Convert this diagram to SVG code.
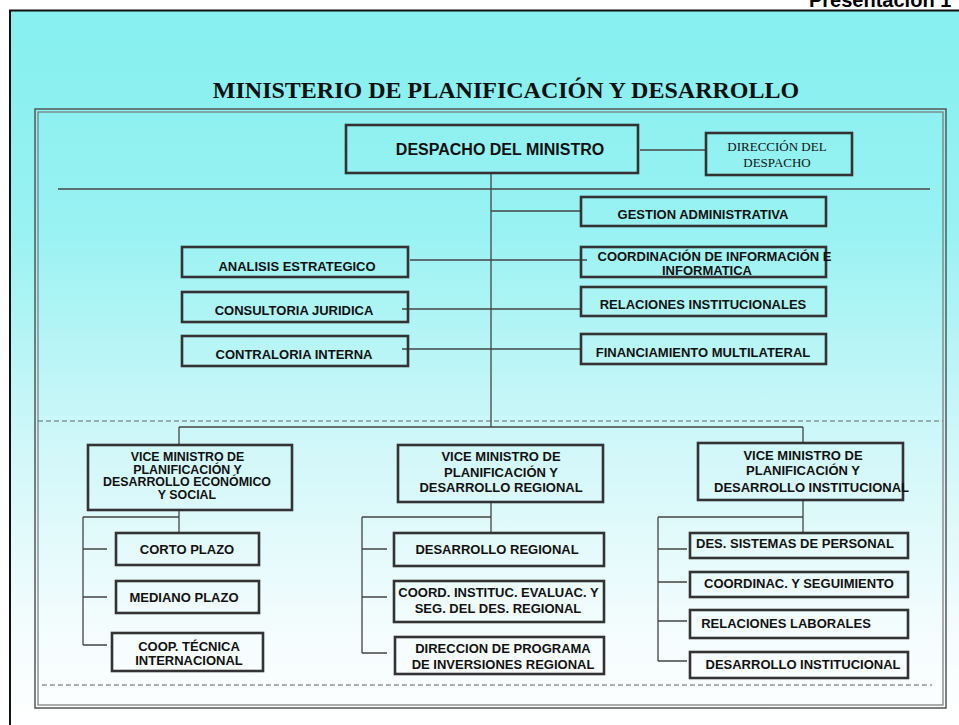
<svg xmlns="http://www.w3.org/2000/svg" width="959" height="725" viewBox="0 0 959 725">
<defs>
<linearGradient id="bg" x1="0" y1="10" x2="0" y2="725" gradientUnits="userSpaceOnUse">
<stop offset="0" stop-color="#86EFEF"/>
<stop offset="0.3" stop-color="#98F2F2"/>
<stop offset="0.6" stop-color="#CFF7F9"/>
<stop offset="0.85" stop-color="#F2FCFD"/>
<stop offset="1" stop-color="#FFFFFF"/>
</linearGradient>
<style>
.box{fill:none;stroke:#333333;stroke-width:2.6}
.t{font-family:"Liberation Sans",Arial,sans-serif;font-weight:bold;font-size:13px;fill:#111111;text-anchor:middle}
.t2{font-family:"Liberation Sans",Arial,sans-serif;font-weight:bold;font-size:12.4px;fill:#111111;text-anchor:middle}
.ser{font-family:"Liberation Serif","Times New Roman",serif;fill:#111111;text-anchor:middle}
.ln{fill:none;stroke:#444444;stroke-width:1.3}
.dash{fill:none;stroke:#666666;stroke-width:1.2;stroke-dasharray:5 3}
</style>
</defs>
<rect x="0" y="0" width="959" height="725" fill="#FFFFFF"/>
<rect x="10" y="10.5" width="960" height="730" fill="url(#bg)" stroke="#111111" stroke-width="2"/>
<text x="809" y="7" style="font-family:'Liberation Sans',Arial,sans-serif;font-weight:bold;font-size:20px" fill="#000000">Presentación 1</text>
<text class="ser" x="506" y="98" style="font-weight:bold;font-size:24px">MINISTERIO DE PLANIFICACIÓN Y DESARROLLO</text>
<g id="frame">
<rect x="35" y="109" width="911" height="599" fill="none" stroke="#555555" stroke-width="1.5"/>
<rect x="38" y="112" width="905" height="593" fill="none" stroke="#777777" stroke-width="1.2"/>
<line x1="58" y1="189" x2="930" y2="189" stroke="#444444" stroke-width="1.3"/>
<line class="dash" x1="38" y1="421" x2="943" y2="421"/>
<line class="dash" x1="42" y1="685" x2="932" y2="685"/>
</g>
<g id="connectors">
<path class="ln" d="M640,150 H706"/>
<path class="ln" d="M491,174 V427"/>
<path class="ln" d="M179,427 H803"/>
<path class="ln" d="M179,427 V445"/>
<path class="ln" d="M803,427 V443"/>
<path class="ln" d="M491,211 H581"/>
<path class="ln" d="M410,260 H587"/>
<path class="ln" d="M402,309 H581"/>
<path class="ln" d="M402,349 H581"/>
<path class="ln" d="M179,510 V533 M83,517 H179 M83,517 V645 M83,549 H107 M83,597 H107 M83,645 H107"/>
<path class="ln" d="M491,502 V533 M362,517 H491 M362,517 V653 M362,549 H387 M362,597 H387 M362,653 H387"/>
<path class="ln" d="M803,500 V533 M658,517 H803 M658,517 V661 M658,549 H687 M658,582 H687 M658,621 H687 M658,661 H687"/>
</g>
<g id="despacho"><rect class="box" x="346" y="125" width="292" height="48"/><text class="t" x="500" y="155" style="font-size:16px">DESPACHO DEL MINISTRO</text></g>
<g id="direccion-despacho"><rect class="box" x="706" y="133" width="146" height="42"/><text class="ser" x="777" y="150.5" style="font-size:13px">DIRECCIÓN DEL</text><text class="ser" x="777" y="167" style="font-size:13px">DESPACHO</text></g>
<g id="gestion"><rect class="box" x="581" y="197" width="245" height="29"/><text class="t" x="703" y="219">GESTION ADMINISTRATIVA</text></g>
<g id="coordinacion"><rect class="box" x="581" y="247" width="245" height="30"/><text class="t" x="714.5" y="261">COORDINACIÓN DE INFORMACIÓN E</text><text class="t" x="707" y="275">INFORMATICA</text></g>
<g id="relaciones-inst"><rect class="box" x="581" y="287" width="245" height="29"/><text class="t" x="703" y="309">RELACIONES INSTITUCIONALES</text></g>
<g id="financiamiento"><rect class="box" x="581" y="334" width="245" height="30"/><text class="t" x="703" y="357">FINANCIAMIENTO MULTILATERAL</text></g>
<g id="analisis"><rect class="box" x="182" y="247" width="226" height="30"/><text class="t" x="297" y="271">ANALISIS ESTRATEGICO</text></g>
<g id="consultoria"><rect class="box" x="182" y="292" width="226" height="30"/><text class="t" x="294" y="315">CONSULTORIA JURIDICA</text></g>
<g id="contraloria"><rect class="box" x="182" y="336" width="226" height="30"/><text class="t" x="294" y="359">CONTRALORIA INTERNA</text></g>
<g id="vm1"><rect class="box" x="88" y="445" width="204" height="65"/><text class="t2" x="187.5" y="461">VICE MINISTRO DE</text><text class="t2" x="187.5" y="473.5">PLANIFICACIÓN Y</text><text class="t2" x="187" y="486">DESARROLLO ECONÓMICO</text><text class="t2" x="187" y="498.5">Y SOCIAL</text></g>
<g id="corto"><rect class="box" x="116" y="533" width="143" height="32"/><text class="t" x="187" y="554">CORTO PLAZO</text></g>
<g id="mediano"><rect class="box" x="116" y="581" width="143" height="32"/><text class="t" x="184" y="602">MEDIANO PLAZO</text></g>
<g id="coop"><rect class="box" x="112" y="633" width="151" height="38"/><text class="t" x="189" y="651">COOP. TÉCNICA</text><text class="t" x="189" y="665">INTERNACIONAL</text></g>
<g id="vm2"><rect class="box" x="398" y="445" width="205" height="57"/><text class="t" x="501" y="461">VICE MINISTRO DE</text><text class="t" x="501" y="477">PLANIFICACIÓN Y</text><text class="t" x="501" y="492">DESARROLLO REGIONAL</text></g>
<g id="desreg"><rect class="box" x="394" y="533" width="210" height="33"/><text class="t" x="497" y="554">DESARROLLO REGIONAL</text></g>
<g id="coordinst"><rect class="box" x="394" y="581" width="210" height="41"/><text class="t" x="498.5" y="597">COORD. INSTITUC. EVALUAC. Y</text><text class="t" x="498" y="613">SEG. DEL DES. REGIONAL</text></g>
<g id="dirprog"><rect class="box" x="395" y="637" width="209" height="37"/><text class="t" x="503" y="653">DIRECCION DE PROGRAMA</text><text class="t" x="503" y="669">DE INVERSIONES REGIONAL</text></g>
<g id="vm3"><rect class="box" x="698" y="443" width="205" height="57"/><text class="t" x="803" y="460">VICE MINISTRO DE</text><text class="t" x="803" y="475">PLANIFICACIÓN Y</text><text class="t" x="811.5" y="492">DESARROLLO INSTITUCIONAL</text></g>
<g id="dessist"><rect class="box" x="690" y="533" width="218" height="25"/><text class="t" x="795" y="548">DES. SISTEMAS DE PERSONAL</text></g>
<g id="coordinac"><rect class="box" x="690" y="572" width="218" height="25"/><text class="t" x="799" y="588">COORDINAC. Y SEGUIMIENTO</text></g>
<g id="rellab"><rect class="box" x="690" y="610" width="218" height="28"/><text class="t" x="786" y="628">RELACIONES LABORALES</text></g>
<g id="desinst"><rect class="box" x="690" y="652" width="218" height="26"/><text class="t" x="803" y="669">DESARROLLO INSTITUCIONAL</text></g>
</svg>
